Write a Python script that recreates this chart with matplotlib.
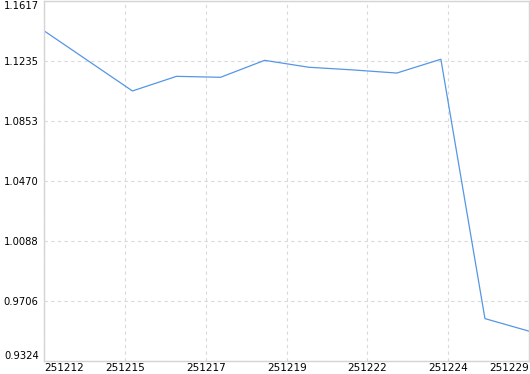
#!/usr/bin/env python3
"""Line chart of a daily value series with evenly spaced date labels."""

import matplotlib

matplotlib.use("Agg")
import matplotlib.pyplot as plt

# values, one per point (12 points)
values = [1.1428, 1.1237, 1.1046, 1.1139, 1.1133, 1.1241,
          1.1197, 1.1180, 1.1160, 1.1248, 0.9596, 0.9516]

date_labels = ["251212", "251215", "251217", "251219", "251222", "251224", "251229"]
y_ticks = [0.9324, 0.9706, 1.0088, 1.0470, 1.0853, 1.1235, 1.1617]

LINE_COLOR = "#5596e6"
GRID_COLOR = "#dadada"
SPINE_COLOR = "#d4d4d4"


def main() -> None:
    fig = plt.figure(figsize=(5.30, 3.74), dpi=100)
    ax = fig.add_axes([44.3 / 530, (374 - 361.3) / 374, 484.7 / 530, 360 / 374])

    x = list(range(len(values)))
    ax.plot(x, values, color=LINE_COLOR, linewidth=0.9)

    n = len(values) - 1
    x_ticks = [n * i / (len(date_labels) - 1) for i in range(len(date_labels))]
    ax.set_xlim(0, n)
    ax.set_ylim(y_ticks[0], y_ticks[-1])
    ax.set_xticks(x_ticks, date_labels)
    ax.set_yticks(y_ticks, [f"{v:.4f}" for v in y_ticks])

    ax.grid(True, color=GRID_COLOR, linestyle=(0, (3, 3)), linewidth=0.8)
    for spine in ax.spines.values():
        spine.set_color(SPINE_COLOR)
        spine.set_linewidth(1.0)

    ax.tick_params(axis="both", length=0, labelcolor="#000000")
    ax.tick_params(axis="x", pad=1.5, labelsize=7.5)
    ax.tick_params(axis="y", pad=4, labelsize=7.2)

    xlabels = ax.get_xticklabels()
    xlabels[0].set_ha("left")
    xlabels[-1].set_ha("right")
    ylabels = ax.get_yticklabels()
    ylabels[0].set_va("bottom")
    ylabels[-1].set_va("top")

    fig.savefig("out.png", dpi=100)
    plt.close(fig)


if __name__ == "__main__":
    main()
